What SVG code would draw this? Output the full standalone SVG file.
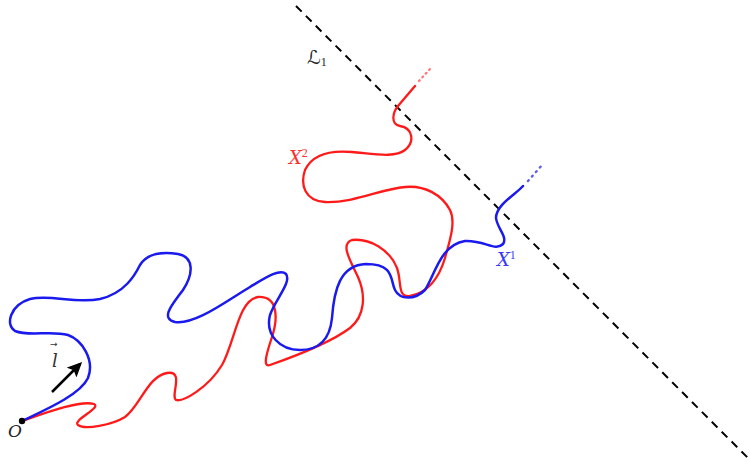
<svg xmlns="http://www.w3.org/2000/svg" width="750" height="471" viewBox="0 0 750 471">
<defs>
<marker id="ah" markerWidth="16" markerHeight="14" refX="12" refY="7" orient="auto" markerUnits="userSpaceOnUse" viewBox="0 0 16 14">
<path d="M0,0 L15,7 L0,14 L3,7 Z" fill="#000"/>
</marker>
<style>
.red{fill:none;stroke:#ff1a1a;stroke-width:2.3;stroke-linecap:round}
.blue{fill:none;stroke:#1a1aee;stroke-width:2.5;stroke-linecap:round}
.dash{fill:none;stroke:#000;stroke-width:2;stroke-dasharray:8,6}
.lab{font-family:"DejaVu Serif","Liberation Serif",serif;font-style:italic}
</style>
</defs>
<rect width="750" height="471" fill="#fff"/>
<g id="connectors">
<path id="L1line" class="dash" d="M296,6 L748,458"/>
<path id="X2" class="red" d="M22,421 C45,413 80,400 94,404 C102,408 72,420 78,425 C85,430 112,425 125,417 C140,406 148,376 167,373 C185,370 170,396 176,400 C183,402 208,388 222,365 C235,342 238,300 258,297 C280,296 277,322 272,337 C267,352 262,368 270,365 C290,358 330,343 350,328 C365,316 366,295 358,277 C350,260 340,244 352,240 C370,238 390,250 397,268 C402,282 397,298 410,296 C430,292 440,275 445,258 C450,240 456,222 450,210 C442,195 425,185 405,187 C380,189 355,203 325,202 C305,201 300,185 305,170 C312,155 330,150 352,152 C375,154 395,158 405,150 C415,142 413,128 400,126 C390,124 393,112 398,106 L415,86"/>
<path class="red" d="M419,81 L430,69" stroke-width="1.1" stroke-dasharray="1,4" opacity="0.6"/>
<path id="X1" class="blue" d="M22,421 C45,410 80,395 88,378 C95,360 82,340 68,335 C50,330 30,337 15,331 C5,325 10,305 30,299 C50,294 75,304 100,299 C125,293 135,275 140,265 C148,252 165,252 178,254 C195,257 193,275 183,290 C172,305 160,318 175,322 C195,325 225,302 250,287 C265,278 280,268 286,274 C292,282 275,300 270,315 C265,335 280,350 300,350 C320,350 330,338 332,318 C334,290 340,265 366,264 C395,264 390,280 395,290 C400,300 415,300 425,290 C435,275 440,245 465,241 C485,240 495,252 503,244 C508,237 497,228 496,218 C496,205 515,195 523,186"/>
<path class="blue" d="M528,181 L543,164" stroke-width="1.2" stroke-dasharray="1,5" opacity="0.7"/>
<path id="arrow-l" d="M52,392 L80,364" stroke="#000" stroke-width="2.5" fill="none" marker-end="url(#ah)"/>
</g>
<g id="origin">
<circle cx="22" cy="421" r="3.2" fill="#000"/>
<text class="lab" x="8" y="437" font-size="17" fill="#222">O</text>
</g>
<g id="l-label">
<text class="lab" x="52" y="367" font-size="18" fill="#333">l</text>
<text x="50" y="347" font-size="9" font-family="DejaVu Sans, sans-serif" fill="#333">→</text>
</g>
<g id="L1-label">
<text x="307" y="64" font-size="19" font-family="DejaVu Serif, DejaVu Sans, serif" fill="#222">ℒ<tspan font-size="12" dy="2" font-family="Liberation Serif, serif">1</tspan></text>
</g>
<g id="X2-label">
<text class="lab" x="289" y="164" font-size="18" fill="#ff3030">X<tspan font-size="12" dy="-7" font-style="normal" font-family="Liberation Serif, serif">2</tspan></text>
</g>
<g id="X1-label">
<text class="lab" x="497" y="266" font-size="18" fill="#3a3aff">X<tspan font-size="12" dy="-7" font-style="normal" font-family="Liberation Serif, serif">1</tspan></text>
</g>
</svg>
